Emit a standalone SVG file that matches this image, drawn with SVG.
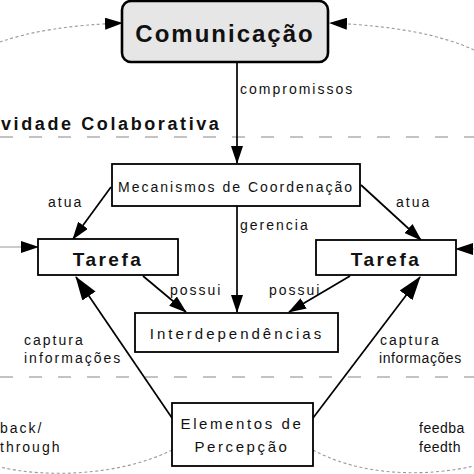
<svg xmlns="http://www.w3.org/2000/svg" width="474" height="474" viewBox="0 0 474 474">
<defs>
<style>
.box{fill:#fff;stroke:#000;stroke-width:1.8}
.t{font-family:"Liberation Sans",Arial,sans-serif;fill:#111}
.lbl{font-size:14px;letter-spacing:2px}
.ln{stroke:#000;stroke-width:1.7;fill:none}
.dot{stroke:#999;stroke-width:1.1;fill:none;stroke-dasharray:3 2.5}
.sep{stroke:#b0b0b0;stroke-width:1.3;fill:none;stroke-dasharray:13 16}
</style>
<marker id="ah" markerUnits="userSpaceOnUse" markerWidth="18" markerHeight="12" refX="17" refY="6" orient="auto">
<path d="M0,0 L18,6 L0,12 z" fill="#000"/>
</marker>
<marker id="ahL" markerUnits="userSpaceOnUse" markerWidth="24" markerHeight="16" refX="23" refY="8" orient="auto">
<path d="M0,0 L24,8 L0,16 z" fill="#000"/>
</marker>
</defs>
<rect width="474" height="474" fill="#fff"/>

<g id="separators">
<line class="sep" x1="0" y1="137" x2="474" y2="137"/>
<line class="sep" x1="0" y1="377" x2="474" y2="377"/>
</g>
<text class="t" x="1" y="130" font-size="18" font-weight="bold" letter-spacing="2.6">vidade Colaborativa</text>

<g id="connectors">
<path class="dot" d="M0,42 Q45,26 122,23" marker-end="url(#ah)"/>
<path class="dot" d="M474,50 Q425,27 330,23" marker-end="url(#ah)"/>
<path d="M0,247 L38,247" stroke="#999" stroke-width="1" fill="none" marker-end="url(#ah)"/>
<path d="M480,249 L456,249" stroke="#999" stroke-width="1" fill="none" marker-end="url(#ah)"/>
<path class="dot" d="M172,450 C120,476 45,478 0,467"/>
<path class="dot" d="M313,450 C365,478 430,476 474,466"/>
<path class="ln" d="M237,62 L237,163" marker-end="url(#ah)"/>
<path class="ln" d="M111,187 L73,239" marker-end="url(#ah)"/>
<path class="ln" d="M361,185 L421,240" marker-end="url(#ah)"/>
<path class="ln" d="M237,206 L237,312" marker-end="url(#ah)"/>
<path class="ln" d="M143,276 L186,312" marker-end="url(#ah)"/>
<path class="ln" d="M350,276 L289,312" marker-end="url(#ah)"/>
<path class="ln" d="M172,418 L76,277" marker-end="url(#ahL)"/>
<path class="ln" d="M313,418 L420,277" marker-end="url(#ahL)"/>
</g>

<g id="labels">
<text class="t lbl" x="240" y="94">compromissos</text>
<text class="t lbl" x="48" y="207">atua</text>
<text class="t lbl" x="396" y="207">atua</text>
<text class="t lbl" x="240" y="230">gerencia</text>
<text class="t lbl" x="170" y="295">possui</text>
<text class="t lbl" x="269" y="295">possui</text>
<text class="t lbl" x="24" y="345">captura</text>
<text class="t lbl" x="24" y="363">informações</text>
<text class="t lbl" x="380" y="345">captura</text>
<text class="t" x="379" y="363" font-size="14" letter-spacing="0.6">informações</text>
<text class="t lbl" x="0" y="433">back/</text>
<text class="t lbl" x="0" y="452">through</text>
<text class="t" x="419" y="433" font-size="14" letter-spacing="0.5">feedba</text>
<text class="t" x="419" y="452" font-size="14" letter-spacing="0.5">feedth</text>
</g>

<g id="comunicacao">
<rect x="122" y="1" width="206" height="61" rx="9" fill="#e6e6e6" stroke="#000" stroke-width="2.6"/>
<text class="t" x="225" y="42" font-size="24" font-weight="bold" letter-spacing="2" text-anchor="middle">Comunicação</text>
</g>

<g id="mecanismos">
<rect class="box" x="112" y="164" width="248" height="42"/>
<text class="t" x="236" y="192" font-size="14" letter-spacing="2" text-anchor="middle">Mecanismos de Coordenação</text>
</g>

<g id="tarefa1">
<rect class="box" x="38" y="239" width="140" height="36"/>
<text class="t" x="108" y="266" font-size="19" font-weight="bold" letter-spacing="2.5" text-anchor="middle">Tarefa</text>
</g>

<g id="tarefa2">
<rect class="box" x="316" y="240" width="140" height="35"/>
<text class="t" x="386" y="266" font-size="19" font-weight="bold" letter-spacing="2.5" text-anchor="middle">Tarefa</text>
</g>

<g id="interdependencias">
<rect class="box" x="135" y="313" width="203" height="39"/>
<text class="t" x="237" y="339" font-size="15" letter-spacing="3" text-anchor="middle">Interdependências</text>
</g>

<g id="elementos">
<rect class="box" x="172" y="403" width="141" height="63"/>
<text class="t" x="242" y="429" font-size="15" letter-spacing="2.6" text-anchor="middle">Elementos de</text>
<text class="t" x="242" y="452" font-size="15" letter-spacing="2.6" text-anchor="middle">Percepção</text>
</g>
</svg>
